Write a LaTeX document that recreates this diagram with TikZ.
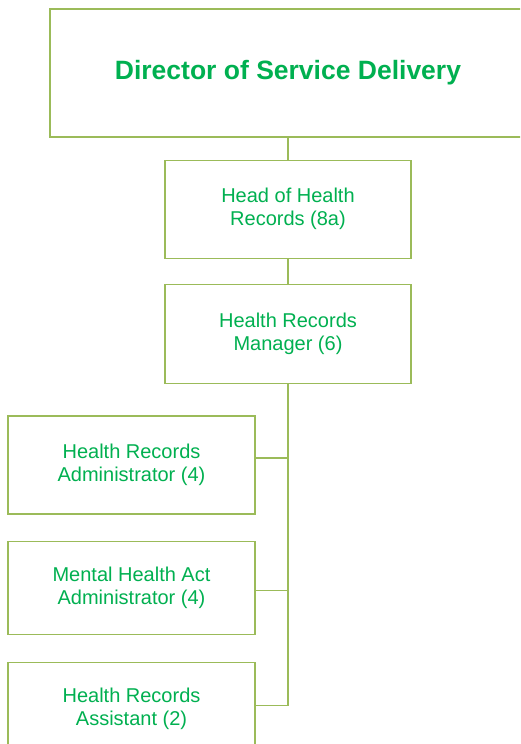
\documentclass[tikz,border=0pt]{standalone}
\usepackage{fontspec}
\setmainfont{Liberation Sans}
\usepackage{tikz}
\usetikzlibrary{positioning}
\definecolor{linegreen}{HTML}{9BBB59}
\definecolor{textgreen}{HTML}{00B050}
\tikzset{
    role/.style={draw=linegreen, line width=1.3pt, fill=white, text=textgreen, align=center,
        minimum width=246pt, minimum height=98pt, inner sep=0pt,
        font=\fontsize{20}{23}\selectfont},
    link/.style={draw=linegreen, line width=1.3pt}
}

\begin{document}
\begin{tikzpicture}[x=1pt, y=1pt]
    \useasboundingbox (0,0) rectangle (520,-744);
    \clip (0,0) rectangle (520,-744);
    \node[role, minimum width=476pt, minimum height=128pt,
          font=\fontsize{26.5}{31}\selectfont\bfseries] (director) at (288,-73) {\raisebox{-2pt}{Director of Service Delivery}};
    \node[role, below=22pt of director] (head) {Head of Health\\Records (8a)};
    \node[role, below=25pt of head, minimum height=99pt] (manager) {Health Records\\Manager (6)};
    \node[role, minimum width=247pt] (admin) at (131.5,-465) {Health Records\\Administrator (4)};
    \node[role, minimum width=247pt, minimum height=93pt, below=26pt of admin] (mha) {Mental Health Act\\Administrator (4)};
    \node[role, minimum width=247pt, minimum height=92pt, below=27pt of mha] (assistant) {Health Records\\Assistant (2)};

    \draw[link] (director) -- (head);
    \draw[link] (head) -- (manager);
    \draw[link] (manager.south) |- ([yshift=3pt]assistant.east);
    \draw[link] ([yshift=7pt]admin.east) -- ([yshift=7pt]admin.east -| manager.south);
    \draw[link] ([yshift=-3pt]mha.east) -- ([yshift=-3pt]mha.east -| manager.south);
\end{tikzpicture}
\end{document}
